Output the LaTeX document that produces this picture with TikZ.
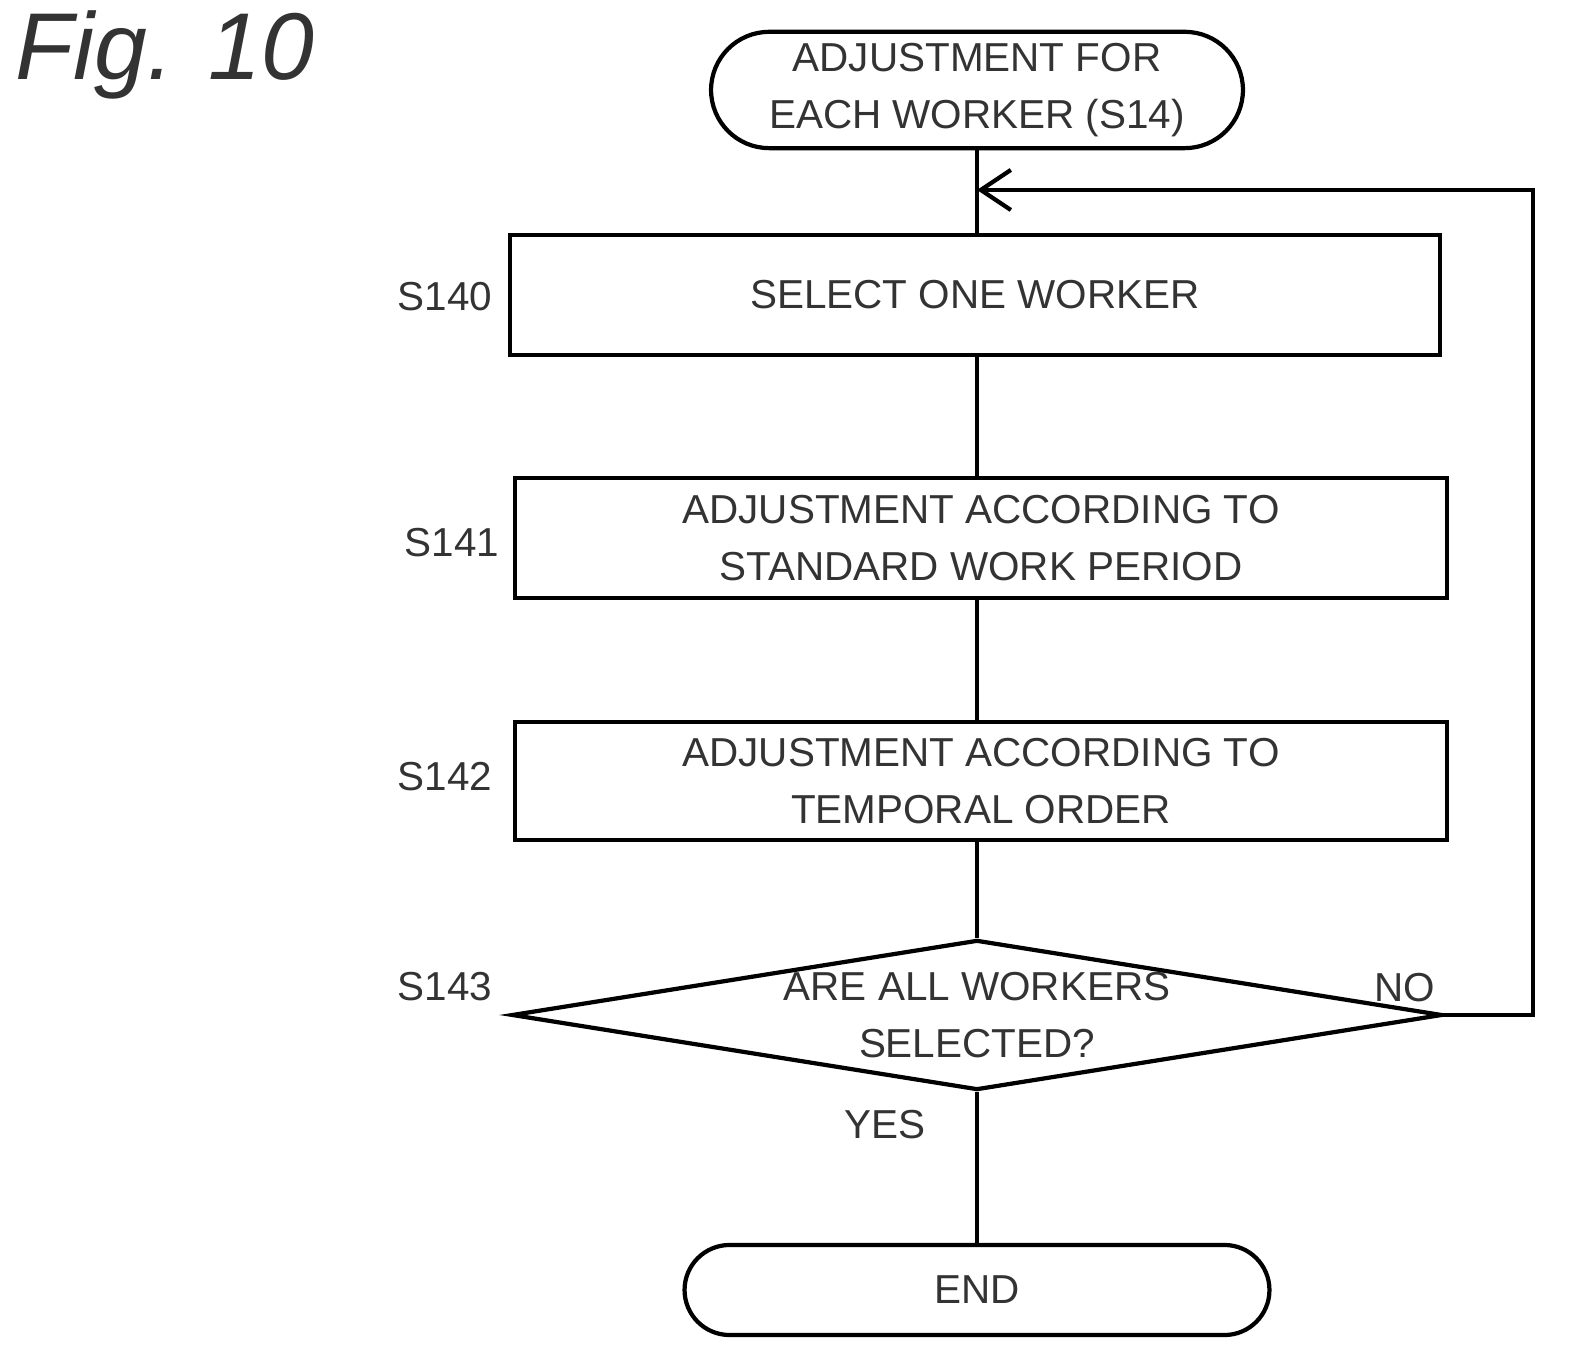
\documentclass[tikz,border=0pt]{standalone}
\usepackage{fontspec}
\setmainfont{Liberation Sans}
\usetikzlibrary{shapes.geometric,shapes.misc,arrows.meta}
\begin{document}
\begin{tikzpicture}[x=0.01cm,y=-0.01cm,
  every node/.style={font=\fontsize{11.5}{16}\selectfont,align=center,text=black!80},
  box/.style={draw,line width=1.2pt,minimum height=1.2cm},
  ln/.style={line width=1.2pt},
  lab/.style={font=\fontsize{11.5}{15}\selectfont}]
\useasboundingbox (0,0) rectangle (1582,1371);
\node[font=\itshape\fontsize{27}{32}\selectfont] (fig) at (165,55) {Fig. 10};
\node[draw,line width=1.2pt,rounded rectangle,minimum width=5.55cm,minimum height=1.1cm] (start) at (977,90) {ADJUSTMENT FOR\\EACH WORKER (S14)};
\node[box,minimum width=9.3cm] (s140) at (975,295) {SELECT ONE WORKER};
\node[box,minimum width=9.32cm] (s141) at (981,538) {ADJUSTMENT ACCORDING TO\\STANDARD WORK PERIOD};
\node[box,minimum width=9.32cm,minimum height=1.18cm] (s142) at (981,781) {ADJUSTMENT ACCORDING TO\\TEMPORAL ORDER};
\node[draw,line width=1.2pt,diamond,aspect=6.4,minimum width=9.3cm,minimum height=1.5cm,inner sep=0pt] (s143) at (977,1015) {ARE ALL WORKERS\\SELECTED?};
\node[draw,line width=1.2pt,rounded rectangle,minimum width=6.08cm,minimum height=0.9cm] (end) at (977,1290) {END};
\node[lab] (l140) at (445,297) {S140};
\node[lab] (l141) at (452,543) {S141};
\node[lab] (l142) at (445,777) {S142};
\node[lab] (l143) at (445,987) {S143};
\node[lab] (no) at (1405,988) {NO};
\node[lab] (yes) at (885,1125) {YES};
\coordinate (j) at (977,190);
\coordinate (c1) at (1533,1015);
\coordinate (c2) at (1533,190);
\draw[ln] (start.south) -- (start.south |- s140.north);
\draw[ln] (start.south |- s140.south) -- (start.south |- s141.north);
\draw[ln] (start.south |- s141.south) -- (start.south |- s142.north);
\draw[ln] (start.south |- s142.south) -- (s143.north);
\draw[ln] (s143.south) -- (end.north);
\draw[ln,-{Straight Barb[length=3mm,width=4mm]}] (s143.east) -- (c1) -- (c2) -- (j);
\end{tikzpicture}
\end{document}
